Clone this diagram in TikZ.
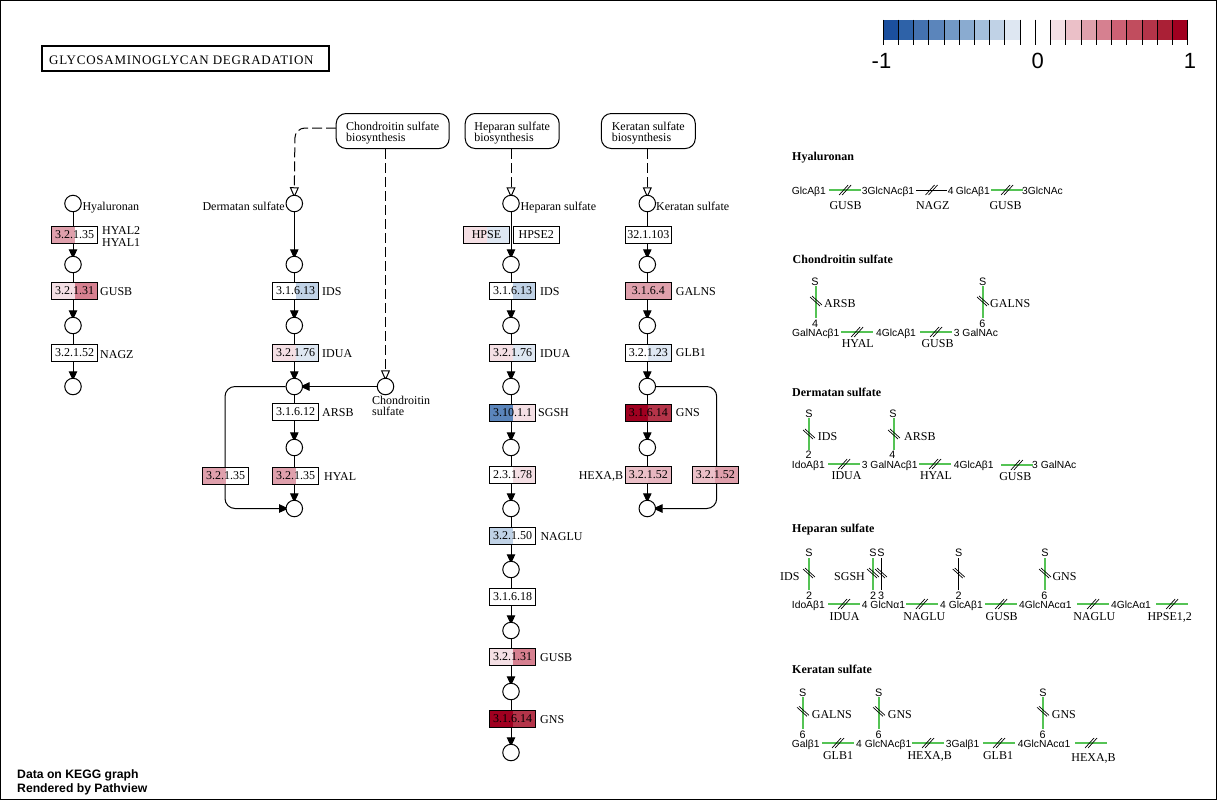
\documentclass[tikz,border=0pt]{standalone}
\usepackage{fontspec}
\setmainfont{Liberation Serif}
\newfontfamily\sanslab{Liberation Sans}
\usetikzlibrary{arrows.meta}
\pgfdeclarelayer{bglayer}\pgfdeclarelayer{edges}
\pgfsetlayers{bglayer,edges,main}
\definecolor{b1}{HTML}{1B4F9E}\definecolor{b2}{HTML}{2E62A8}\definecolor{b3}{HTML}{4472B0}
\definecolor{b4}{HTML}{5B85BB}\definecolor{b5}{HTML}{7299C5}\definecolor{b6}{HTML}{8AABD0}
\definecolor{b7}{HTML}{A4BFDC}\definecolor{b8}{HTML}{C0D2E6}\definecolor{b9}{HTML}{DEE7F2}
\definecolor{r1}{HTML}{F4DFE4}\definecolor{r2}{HTML}{EBC0C8}\definecolor{r3}{HTML}{DFA0AC}
\definecolor{r4}{HTML}{D68090}\definecolor{r5}{HTML}{CC6174}\definecolor{r6}{HTML}{C14D5E}
\definecolor{r7}{HTML}{B43449}\definecolor{r8}{HTML}{AA2036}\definecolor{r9}{HTML}{A00020}
\definecolor{lnkgreen}{HTML}{55C355}
\tikzset{
  cnode/.style={circle,draw=black,fill=white,line width=1pt,minimum size=16.5pt,inner sep=0pt},
  genebox/.style={rectangle,draw=black,line width=1pt,minimum width=46pt,minimum height=17pt,inner sep=0pt,font=\fontsize{12}{12}\selectfont},
  mapbox/.style={rectangle,rounded corners=10pt,draw=black,fill=white,line width=1pt,minimum height=35pt,inner sep=0pt,align=left,font=\fontsize{12}{11}\selectfont},
  lab/.style={anchor=west,inner sep=0pt,text height=8pt,text depth=0pt,font=\fontsize{12}{12}\selectfont},
  labc/.style={anchor=center,inner sep=0pt,text height=8pt,text depth=0pt,font=\fontsize{12}{12}\selectfont},
  ttl/.style={anchor=west,inner sep=0pt,text height=8pt,text depth=0pt,font=\fontsize{12}{12}\selectfont\bfseries},
  sug/.style={anchor=west,inner sep=0pt,text height=8pt,text depth=0pt,font=\fontsize{10.3}{12}\sanslab},
  num/.style={anchor=center,inner sep=0pt,text height=8pt,text depth=0pt,font=\fontsize{10.8}{12}\sanslab},
  flow/.style={line width=1pt,shorten >=-3pt,-{Triangle[length=9.5pt,width=8.5pt]}},
  dashflow/.style={line width=1pt,dash pattern=on 10pt off 4pt,shorten >=-3pt,-{Triangle[open,fill=white,length=10.5pt,width=9pt]}},
  curveflow/.style={line width=1pt,rounded corners=10pt,shorten >=-3pt,-{Triangle[length=9.5pt,width=8.5pt]}},
  hatch/.style={line width=0.7pt,draw=black},
  glink/.style={line width=2pt,draw=lnkgreen},
  klink/.style={line width=1pt,draw=black},
  tick/.style={line width=0.8pt,draw=black}
}
\newcommand{\gene}[6]{\node[genebox,path picture={
  \fill[#4] (path picture bounding box.south west) rectangle (path picture bounding box.north);
  \fill[#5] (path picture bounding box.south) rectangle (path picture bounding box.north east);}]
  (#1) at (#2,#3) {#6};}
\newcommand{\hlnk}[4]{\draw[#4] (#1,#3) -- (#2,#3);
  \draw[hatch] ({(#1+#2)/2-6},#3+5) -- ({(#1+#2)/2+3},#3-5);
  \draw[hatch] ({(#1+#2)/2-3},#3+5) -- ({(#1+#2)/2+6},#3-5);}
\newcommand{\vlnk}[5]{\draw[#4] (#1,#2) -- (#1,#3);
  \draw[hatch] (#1-6,#5-5) -- (#1+4,#5+4);
  \draw[hatch] (#1-4,#5-6) -- (#1+6,#5+3);}
\begin{document}
\begin{tikzpicture}[x=1pt,y=-1pt]
\useasboundingbox (0,0) rectangle (1217,801);
\begin{pgfonlayer}{bglayer}
\fill[white] (0,0) rectangle (1217,801);
\draw[line width=1pt] (0.5,0.5) rectangle (1216.5,799.5);
\end{pgfonlayer}

% title
\node[draw=black,line width=2pt,anchor=west,minimum width=287pt,minimum height=25pt,inner sep=0pt] (pathtitle) at (41,58.5) {};
\node[lab,font=\fontsize{13}{12}\selectfont\addfontfeature{LetterSpace=5.8}] (pathtitletext) at (49,60) {GLYCOSAMINOGLYCAN DEGRADATION};

% colour scale
\foreach \i/\c in {0/b1,1/b2,2/b3,3/b4,4/b5,5/b6,6/b7,7/b8,8/b9,11/r1,12/r2,13/r3,14/r4,15/r5,16/r6,17/r7,18/r8,19/r9}
  \fill[\c] ({883+15.235*\i},19.5) rectangle ({883+15.235*(\i+1)},40);
\foreach \i in {0,...,20} \draw[tick] ({883+15.235*\i},19.5) -- ({883+15.235*\i},45);
\node[inner sep=0pt,font=\fontsize{22}{22}\sanslab] (scalemin) at (881.5,60.5) {-1};
\node[inner sep=0pt,font=\fontsize{22}{22}\sanslab] (scalemid) at (1037.7,60.5) {0};
\node[inner sep=0pt,font=\fontsize{22}{22}\sanslab] (scalemax) at (1190,60.5) {1};

% footer
\node[anchor=west,inner sep=0pt,text height=8pt,text depth=0pt,font=\fontsize{12.2}{12}\sanslab\bfseries] (foot1) at (17,774) {Data on KEGG graph};
\node[anchor=west,inner sep=0pt,text height=8pt,text depth=0pt,font=\fontsize{12.2}{12}\sanslab\bfseries] (foot2) at (17,788.7) {Rendered by Pathview};

% map boxes
\node[mapbox,minimum width=113pt] (mapC) at (392.7,131) {\rule{0pt}{12pt}Chondroitin sulfate\\biosynthesis};
\node[mapbox,minimum width=94pt] (mapH) at (512.2,131) {\rule{0pt}{12pt}Heparan sulfate\\biosynthesis};
\node[mapbox,minimum width=94pt] (mapK) at (648.3,131) {\rule{0pt}{12pt}Keratan sulfate\\biosynthesis};

% compounds
\foreach \n/\y in {1/203.5,2/264.5,3/325.5,4/386.5} \node[cnode] (hy\n) at (73,\y) {};
\foreach \n/\y in {1/203.5,2/264.5,3/325.5,4/386.5,5/447.5,6/508.5} \node[cnode] (de\n) at (294.3,\y) {};
\node[cnode] (chs) at (385.5,386.5) {};
\foreach \n/\y in {1/203.5,2/264.5,3/325.5,4/386.5,5/447.5,6/508.5,7/569.5,8/630.5,9/691.5,10/752.5} \node[cnode] (he\n) at (511,\y) {};
\foreach \n/\y in {1/203.5,2/264.5,3/325.5,4/386.5,5/447.5,6/508.5} \node[cnode] (ke\n) at (647.3,\y) {};

% connectors
\begin{pgfonlayer}{edges}
\draw[flow] (hy1) -- (hy2); \draw[flow] (hy2) -- (hy3); \draw[flow] (hy3) -- (hy4);
\draw[flow] (de1) -- (de2); \draw[flow] (de2) -- (de3); \draw[flow] (de3) -- (de4);
\draw[flow] (de4) -- (de5); \draw[flow] (de5) -- (de6);
\draw[flow] (chs) -- (de4);
\foreach \a/\b in {1/2,2/3,3/4,4/5,5/6,6/7,7/8,8/9,9/10} \draw[flow] (he\a) -- (he\b);
\foreach \a/\b in {1/2,2/3,3/4,4/5,5/6} \draw[flow] (ke\a) -- (ke\b);
\coordinate (deTL) at (225,386.5); \coordinate (deBL) at (225,508.5);
\draw[curveflow] (de4.west) -- (deTL) -- (deBL) -- (de6.west);
\coordinate (keTR) at (716.7,386.5); \coordinate (keBR) at (716.7,508.5);
\draw[curveflow] (ke4.east) -- (keTR) -- (keBR) -- (ke6.east);
\coordinate (dsCorner) at (295,128);
\coordinate (mapCW) at (336,128);
\draw[dashflow,rounded corners=10pt] (mapCW) -- (dsCorner) -- (de1.north);
\draw[dashflow] (mapC.south -| chs) -- (chs);
\draw[dashflow] (mapH.south -| he1) -- (he1);
\draw[dashflow] (mapK.south -| ke1) -- (ke1);
\end{pgfonlayer}

% enzymes: Hyaluronan
\gene{g1}{74.5}{235}{r3}{white}{3.2.1.35}
\gene{g2}{74.5}{291}{r1}{r4}{3.2.1.31}
\gene{g3}{74.5}{353}{white}{white}{3.2.1.52}
% Dermatan
\gene{g4}{295.5}{291}{white}{b8}{3.1.6.13}
\gene{g5}{295.5}{353}{r1}{b9}{3.2.1.76}
\gene{g6}{295.5}{412}{white}{white}{3.1.6.12}
\gene{g7}{295.5}{475.5}{r3}{white}{3.2.1.35}
\gene{g8}{225.5}{475.5}{r3}{white}{3.2.1.35}
% Heparan
\gene{g9}{486.5}{235}{r1}{b9}{HPSE}
\gene{g10}{536.3}{235}{white}{white}{HPSE2}
\gene{g11}{512.5}{291}{white}{b8}{3.1.6.13}
\gene{g12}{512.5}{353}{r1}{b9}{3.2.1.76}
\gene{g13}{512.5}{413}{b4}{r1}{3.10.1.1}
\gene{g14}{512.5}{475}{white}{r1}{2.3.1.78}
\gene{g15}{512.5}{536}{b8}{white}{3.2.1.50}
\gene{g16}{512.5}{596.5}{white}{white}{3.1.6.18}
\gene{g17}{512.5}{657}{r1}{r4}{3.2.1.31}
\gene{g18}{512.5}{719}{r9}{r7}{3.1.6.14}
% Keratan
\gene{g19}{648.3}{235}{white}{white}{32.1.103}
\gene{g20}{648.3}{291}{r3}{r3}{3.1.6.4}
\gene{g21}{648.3}{353}{white}{b9}{3.2.1.23}
\gene{g22}{648.3}{413}{r9}{r7}{3.1.6.14}
\gene{g23}{648.3}{475}{r2}{r2!70!r3}{3.2.1.52}
\gene{g24}{715.3}{475}{r2}{r3}{3.2.1.52}

% labels, left part
\node[lab] (l1) at (82.3,206) {Hyaluronan};
\node[lab] (l2) at (102,230.7) {HYAL2};
\node[lab] (l3) at (102,242.7) {HYAL1};
\node[lab] (l4) at (100,291) {GUSB};
\node[lab] (l5) at (100,354) {NAGZ};
\node[labc,anchor=east] (l6) at (285,206) {Dermatan sulfate};
\node[lab] (l7) at (322,291.5) {IDS};
\node[lab] (l8) at (322,353.5) {IDUA};
\node[lab] (l9) at (322,412) {ARSB};
\node[lab] (l10) at (324,476) {HYAL};
\node[anchor=west,inner sep=0pt,align=left,font=\fontsize{12}{11}\selectfont] (l11) at (372,405.5) {Chondroitin\\sulfate};
\node[lab] (l12) at (520.3,206) {Heparan sulfate};
\node[lab] (l13) at (540,291.5) {IDS};
\node[lab] (l14) at (540,353.5) {IDUA};
\node[lab] (l15) at (538,412.5) {SGSH};
\node[lab] (l16) at (540.3,536) {NAGLU};
\node[lab] (l17) at (540,657.5) {GUSB};
\node[lab] (l18) at (540,719.5) {GNS};
\node[lab] (l19) at (656,206) {Keratan sulfate};
\node[lab] (l20) at (675.7,291.5) {GALNS};
\node[lab] (l21) at (675.7,352.5) {GLB1};
\node[lab] (l22) at (675.7,412.3) {GNS};
\node[labc,anchor=east] (l23) at (623.3,475) {HEXA,B};

% Hyaluronan panel
\node[ttl] (t1) at (792,156) {Hyaluronan};
\node[sug] (a1) at (791.7,190.5) {GlcAβ1};
\hlnk{829.3}{861}{190}{glink}
\node[sug] (a2) at (861.7,190.5) {3GlcNAcβ1};
\hlnk{916.3}{946.7}{190}{klink}
\node[sug] (a3) at (947.7,190.5) {4};
\node[sug] (a4) at (955.7,190.5) {GlcAβ1};
\hlnk{991}{1023}{190}{glink}
\node[sug] (a5) at (1022,190.5) {3GlcNAc};
\node[labc] (a6) at (845.5,205.7) {GUSB};
\node[labc] (a7) at (932.7,205.7) {NAGZ};
\node[labc] (a8) at (1005.5,205.7) {GUSB};

% Chondroitin panel
\node[ttl] (t2) at (792.5,259) {Chondroitin sulfate};
\node[num] (b1) at (815,281) {S};
\vlnk{816}{286}{317.7}{glink}{302}
\node[lab] (b2) at (824,303.7) {ARSB};
\node[num] (b3) at (815,323) {4};
\node[sug] (b4) at (792,332) {GalNAcβ1};
\hlnk{841.3}{873}{332}{glink}
\node[sug] (b5) at (876,332) {4GlcAβ1};
\hlnk{920}{952}{332}{glink}
\node[sug] (b6) at (953.7,332) {3 GalNAc};
\node[num] (b7) at (982.7,281) {S};
\vlnk{983}{286}{317.7}{glink}{302}
\node[lab] (b8) at (990,303.7) {GALNS};
\node[num] (b9) at (982.3,323) {6};
\node[labc] (b10) at (857.8,343.3) {HYAL};
\node[labc] (b11) at (937.5,343.3) {GUSB};

% Dermatan panel
\node[ttl] (t3) at (792,392) {Dermatan sulfate};
\node[num] (c1) at (809,413) {S};
\vlnk{809}{417.7}{450}{glink}{435}
\node[lab] (c2) at (817.7,436.7) {IDS};
\node[num] (c3) at (808.7,454) {2};
\node[sug] (c4) at (791.7,464.3) {IdoAβ1};
\hlnk{828.3}{860}{464}{glink}
\node[sug] (c5) at (861.7,464.3) {3 GalNAcβ1};
\node[num] (c6) at (893,413) {S};
\vlnk{894}{417.7}{450}{glink}{435}
\node[lab] (c7) at (904,436.7) {ARSB};
\node[num] (c8) at (892.3,454) {4};
\hlnk{919}{951}{464}{glink}
\node[sug] (c9) at (953.7,464.3) {4GlcAβ1};
\hlnk{1001}{1032.7}{465}{glink}
\node[sug] (c10) at (1032,464.3) {3 GalNAc};
\node[labc] (c11) at (846.5,475.7) {IDUA};
\node[labc] (c12) at (936,475.7) {HYAL};
\node[labc] (c13) at (1015.3,476) {GUSB};

% Heparan panel
\node[ttl] (t4) at (792,528.3) {Heparan sulfate};
\node[num] (d1) at (809,552.7) {S};
\vlnk{809}{558}{590}{glink}{574}
\node[lab] (d2) at (780,576) {IDS};
\node[num] (d3) at (809,595) {2};
\node[sug] (d4) at (791.7,604.3) {IdoAβ1};
\hlnk{828}{860}{604}{glink}
\node[sug] (d5) at (861.7,604.3) {4 GlcNα1};
\node[lab] (d6) at (834,576) {SGSH};
\node[num] (d7) at (873,552.7) {S};
\node[num] (d8) at (881,552.7) {S};
\vlnk{873}{558}{590}{glink}{574}
\vlnk{881}{558}{590}{klink}{574}
\node[num] (d9) at (873,595) {2};
\node[num] (d10) at (881,595) {3};
\hlnk{906}{937.7}{604}{glink}
\node[sug] (d11) at (940,604.3) {4 GlcAβ1};
\node[num] (d12) at (958.7,552.7) {S};
\vlnk{958.7}{558}{590}{klink}{574}
\node[num] (d13) at (958.7,595) {2};
\hlnk{985.3}{1017}{604}{glink}
\node[sug] (d14) at (1019,604.3) {4GlcNAcα1};
\node[num] (d15) at (1045,552.7) {S};
\vlnk{1045}{558}{590}{glink}{574}
\node[lab] (d16) at (1052.3,576) {GNS};
\node[num] (d17) at (1044.3,595) {6};
\hlnk{1077.3}{1109}{604}{glink}
\node[sug] (d18) at (1111,604.3) {4GlcAα1};
\hlnk{1156.3}{1188}{604}{glink}
\node[labc] (d19) at (844.5,616) {IDUA};
\node[labc] (d20) at (924.3,616) {NAGLU};
\node[labc] (d21) at (1001.7,616) {GUSB};
\node[labc] (d22) at (1094.3,616) {NAGLU};
\node[labc] (d23) at (1169.7,616) {HPSE1,2};

% Keratan panel
\node[ttl] (t5) at (792,669.3) {Keratan sulfate};
\node[num] (e1) at (802.7,692.3) {S};
\vlnk{803}{697.3}{729}{glink}{712.3}
\node[lab] (e2) at (811.7,714.7) {GALNS};
\node[num] (e3) at (802.5,734) {6};
\node[sug] (e4) at (791.7,743.3) {Galβ1};
\hlnk{822}{854}{743}{glink}
\node[sug] (e5) at (856,743.3) {4 GlcNAcβ1};
\node[num] (e6) at (878.7,692.3) {S};
\vlnk{879}{697.3}{729}{glink}{712.3}
\node[lab] (e7) at (887.7,714.7) {GNS};
\node[num] (e8) at (878.5,734) {6};
\hlnk{912}{944}{743}{glink}
\node[sug] (e9) at (945.7,743.3) {3Galβ1};
\hlnk{983}{1015}{743}{glink}
\node[sug] (e10) at (1017.7,743.3) {4GlcNAcα1};
\node[num] (e11) at (1043,692.3) {S};
\vlnk{1043}{697.3}{729}{glink}{712.3}
\node[lab] (e12) at (1051.7,714.7) {GNS};
\node[num] (e13) at (1042.5,734) {6};
\hlnk{1075}{1107}{743}{glink}
\node[labc] (e14) at (838,755) {GLB1};
\node[labc] (e15) at (929.7,755) {HEXA,B};
\node[labc] (e16) at (998,755) {GLB1};
\node[labc] (e17) at (1093.5,757) {HEXA,B};
\end{tikzpicture}
\end{document}
